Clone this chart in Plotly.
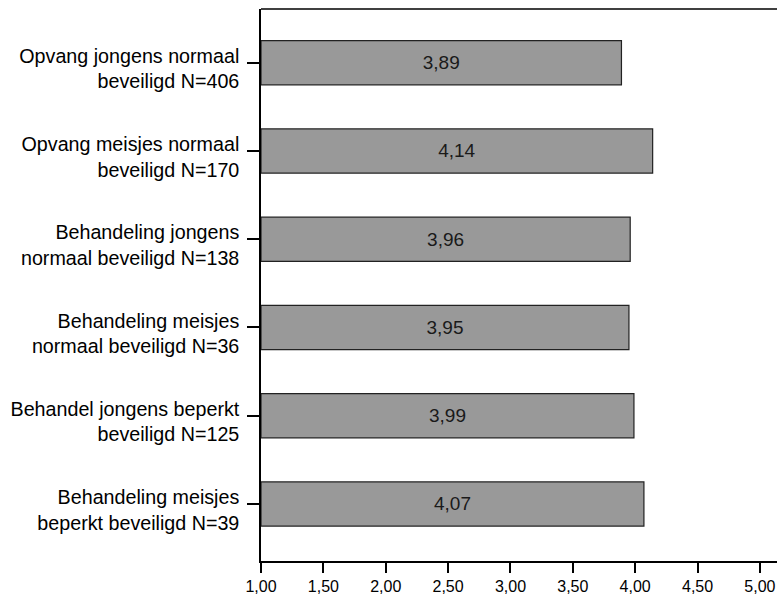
import plotly.graph_objects as go

categories = [
    "Opvang jongens normaal<br>beveiligd N=406",
    "Opvang meisjes normaal<br>beveiligd N=170",
    "Behandeling jongens<br>normaal beveiligd N=138",
    "Behandeling meisjes<br>normaal beveiligd N=36",
    "Behandel jongens beperkt<br>beveiligd N=125",
    "Behandeling meisjes<br>beperkt beveiligd N=39",
]
values = [3.89, 4.14, 3.96, 3.95, 3.99, 4.07]
tick_vals = [1.0, 1.5, 2.0, 2.5, 3.0, 3.5, 4.0, 4.5, 5.0]
axis_min = 1.0

labels = [f"{v:.2f}".replace(".", ",") for v in values]

fig = go.Figure(
    go.Bar(
        y=categories,
        x=[v - axis_min for v in values],
        base=axis_min,
        orientation="h",
        marker=dict(color="#999999", line=dict(color="#222222", width=1.2)),
        text=labels,
        textposition="inside",
        insidetextanchor="middle",
        textfont=dict(family="Liberation Sans, Arial, sans-serif", size=19, color="#1a1a1a"),
        hoverinfo="skip",
    )
)

fig.update_layout(
    width=777,
    height=596,
    margin=dict(l=261, r=0, t=9, b=35),
    paper_bgcolor="white",
    plot_bgcolor="white",
    bargap=0.5,
    showlegend=False,
    separators=",.",
    font=dict(family="Liberation Sans, Arial, sans-serif", color="#000000"),
)

fig.update_xaxes(
    range=[axis_min, 5.137],
    tickvals=tick_vals,
    tickformat=".2f",
    showline=True,
    linecolor="#000000",
    linewidth=1.5,
    mirror=False,
    ticks="outside",
    ticklen=10,
    tickwidth=1.5,
    tickcolor="#000000",
    showgrid=False,
    zeroline=False,
    tickfont=dict(size=16, color="#000000"),
)

fig.update_yaxes(
    type="category",
    categoryorder="array",
    categoryarray=categories,
    range=[5.646, -0.609],
    showline=True,
    linecolor="#000000",
    linewidth=1.5,
    mirror=False,
    ticks="outside",
    ticklen=12,
    tickwidth=1.5,
    tickcolor="#000000",
    showgrid=False,
    zeroline=False,
    tickfont=dict(size=19.7, color="#000000"),
    ticklabelstandoff=4,
    ticklabelshift=-6,
)

# top frame line of the plot area
fig.add_shape(
    type="line", xref="paper", yref="paper",
    x0=0, x1=1, y0=1, y1=1,
    line=dict(color="#000000", width=1.5),
    layer="above",
)

fig.write_html(
    "out.html",
    config={"displayModeBar": False},
    post_script="document.body.style.margin='0';document.body.style.overflow='hidden';",
)
